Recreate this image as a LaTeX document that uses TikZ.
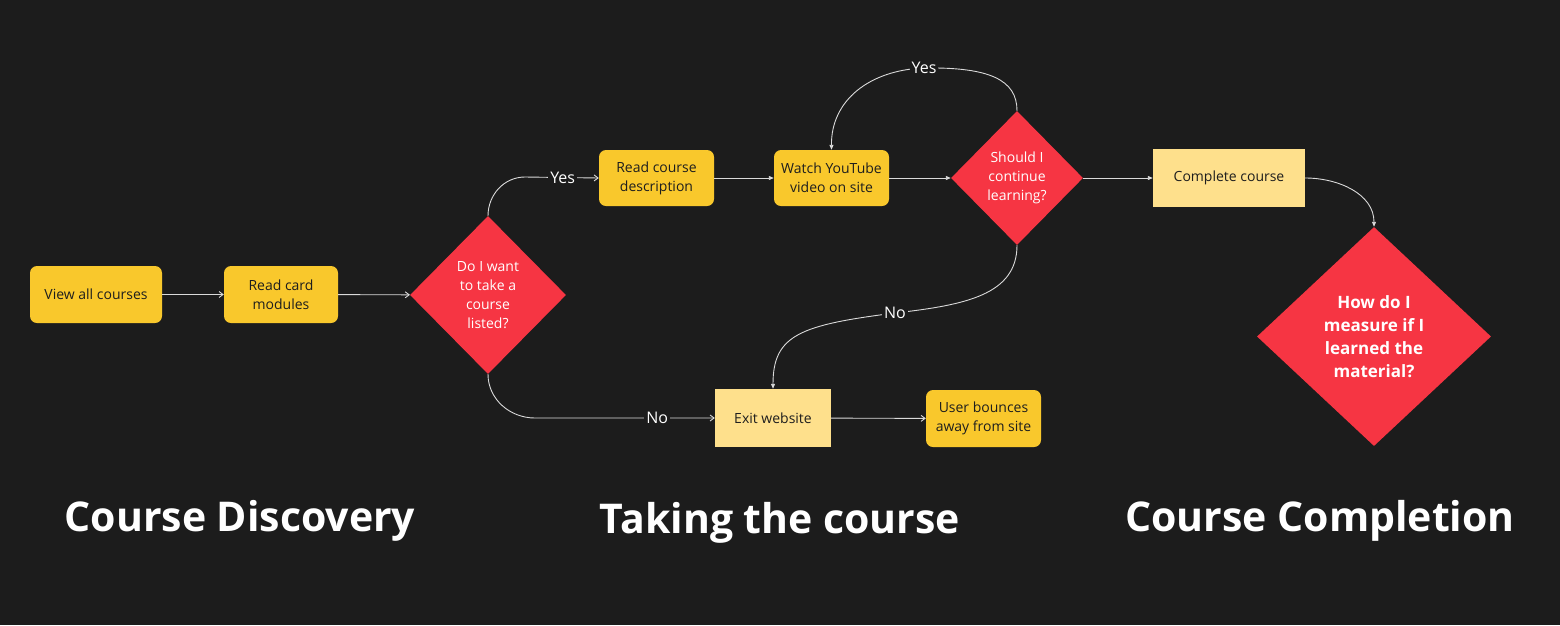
\documentclass[tikz,border=0pt]{standalone}
\usepackage{fontspec}
\setmainfont{Open Sans}
\usetikzlibrary{shapes.geometric,arrows.meta}
\definecolor{bg}{HTML}{1C1C1C}
\definecolor{ybox}{HTML}{F9C82C}
\definecolor{lybox}{HTML}{FEE08C}
\definecolor{dred}{HTML}{F63543}
\definecolor{ln}{HTML}{DADADA}
\definecolor{dtext}{HTML}{1E1E1E}
\tikzset{
  ynode/.style={draw=none, fill=ybox, rounded corners=7pt, align=center, text=dtext,
     font=\fontsize{14}{19}\selectfont, inner sep=0pt},
  lynode/.style={draw=none, fill=lybox, align=center, text=dtext,
     font=\fontsize{14}{19}\selectfont, inner sep=0pt},
  dnode/.style={diamond, draw=none, fill=dred, align=center, text=white,
     font=\fontsize{14}{19}\selectfont, inner sep=0pt},
  conn/.style={draw=ln, line width=0.9pt, -{Straight Barb[length=4pt,width=6pt]}},
  connf/.style={draw=ln, line width=0.9pt, -{Triangle[length=5pt,width=4pt]}},
  lbl/.style={fill=bg, text=white, font=\fontsize{16}{18}\selectfont, inner sep=2pt},
  ttl/.style={text=white, font=\fontsize{41}{46}\bfseries\selectfont, inner sep=0pt},
}
\begin{document}
\begin{tikzpicture}[x=1pt,y=-1pt]
\fill[bg] (0,0) rectangle (1560,625);
\useasboundingbox (0,0) rectangle (1560,625);

\node[ynode, minimum width=132pt, minimum height=57pt] (view) at (96,294.5) {View all courses};
\node[ynode, minimum width=114pt, minimum height=57pt] (card) at (281,294.5) {Read card\\modules};
\node[dnode, minimum width=156pt, minimum height=158pt] (d1) at (488,295) {Do I want\\to take a\\course\\listed?};
\node[ynode, minimum width=115pt, minimum height=56pt] (rcd) at (656.5,178) {Read course\\description};
\node[ynode, minimum width=115pt, minimum height=56pt] (watch) at (831.5,178) {Watch YouTube\\video on site};
\node[dnode, minimum width=132pt, minimum height=134pt] (d2) at (1017,178) {Should I\\continue\\learning?};
\node[lynode, minimum width=152pt, minimum height=58pt] (comp) at (1229,178) {Complete course};
\node[dnode, minimum width=234pt, minimum height=219pt, font=\fontsize{17}{23}\bfseries\selectfont] (d3) at (1374,336.5) {How do I\\measure if I\\learned the\\material?};
\node[lynode, minimum width=116pt, minimum height=58pt] (exit) at (773,418) {Exit website};
\node[ynode, minimum width=115pt, minimum height=57pt] (bounce) at (983.5,418.5) {User bounces\\away from site};

\node[ttl] (t1) at (240,521) {Course Discovery};
\node[ttl] (t2) at (780,523) {Taking the course};
\node[ttl] (t3) at (1320,521) {Course Completion};

\coordinate (c1) at (525,177);
\coordinate (c2) at (535,418);

\draw[conn] (view) -- (card);
\draw[conn] (card) -- (d1);
\draw[conn] (d1.north) to[out=90,in=180] (c1) -- node[lbl,pos=0.51] {Yes} (rcd.west);
\draw[connf] (rcd) -- (watch);
\draw[connf] (watch) -- (d2);
\draw[connf] (d2) -- (comp);
\draw[connf] (d2.north) .. controls (1017,80) and (990,67) .. (924,68) node[lbl] {Yes} .. controls (870,70) and (831,100) .. (watch.north);
\draw[conn] (d1.south) to[out=-90,in=180] (c2) -- node[lbl,pos=0.68] {No} (exit.west);
\draw[connf] (d2.south) .. controls (1017,295) and (965,305) .. (895,313) node[lbl] {No} .. controls (800,325) and (773,335) .. (exit.north);
\draw[conn] (exit) -- (bounce);
\draw[connf] (comp.east) to[out=0,in=90] (d3.north);
\end{tikzpicture}
\end{document}
